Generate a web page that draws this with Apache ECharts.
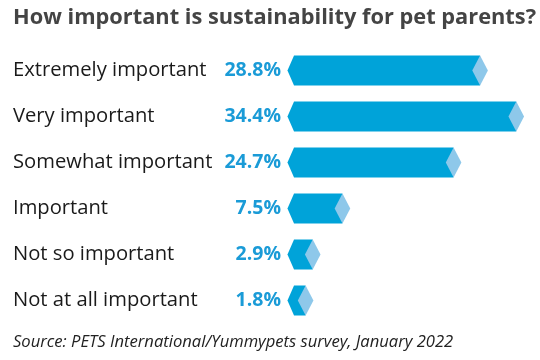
<!DOCTYPE html>
<html><head><meta charset="utf-8">
<script src="https://cdn.jsdelivr.net/npm/echarts@6/dist/echarts.min.js"></script>
<style>html,body{margin:0;padding:0;background:#fff}#c{width:540px;height:360px}</style>
</head><body><div id="c"></div>
<script>
var categories = ['Extremely important','Very important','Somewhat important','Important','Not so important','Not at all important'];
var values = [28.8, 34.4, 24.7, 7.5, 2.9, 1.8];
var titleText = 'How important is sustainability for pet parents?';
var sourceText = 'Source: PETS International/Yummypets survey, January 2022';

var DARK = '#00a3d9', LIGHT = '#8ec8ea', VALC = '#1a9bd7';
var chart = echarts.init(document.getElementById('c'));
chart.setOption({
  animation: false,
  title: [{text: titleText, left: 13, top: 7, padding:0, textStyle:{fontFamily:'Open Sans', fontWeight:'bold', fontSize:21.8, color:'#444'}},
          {text: sourceText, left: 13, top: 333.5, padding:0, textStyle:{fontFamily:'Open Sans', fontStyle:'italic', fontWeight:'normal', fontSize:16.6, color:'#222'}}],
  grid: {left: 294, right: 13.4, top: 47.5, height: 276},
  xAxis: {type:'value', min:0, max:36, show:false},
  yAxis: {type:'category', data: categories, inverse:true,
    axisLine:{show:false}, axisTick:{show:false},
    axisLabel:{align:'left', margin:281,
      formatter: function(v, i){ return '{n|' + v + '}{v|' + values[i].toFixed(1) + '%}'; },
      rich:{ n:{width:200, align:'left', fontFamily:'Open Sans', fontSize:20.2, color:'#1a1a1a'},
             v:{width:68, align:'right', fontFamily:'Open Sans', fontSize:19.5, fontWeight:'bold', color:VALC}}}},
  series: [{type:'custom', data: values.map(function(v,i){return [v,i];}),
    renderItem: function(params, api){
      var p0 = api.coord([0, api.value(1)]);
      var p1 = api.coord([api.value(0), api.value(1)]);
      var h = 30, yc = p0[1], top = yc - h/2, bot = yc + h/2;
      var x0 = p0[0], xr = p1[0], d = 7.8;
      return {type:'group', children:[
        {type:'polygon', shape:{points:[[x0-6.5,yc],[x0,top],[xr,top],[xr,bot],[x0,bot]]}, style:{fill:DARK}},
        {type:'polygon', shape:{points:[[xr,top],[xr+d,yc],[xr,bot],[xr-d,yc]]}, style:{fill:LIGHT}}
      ]};
    }}]
});
</script></body></html>
